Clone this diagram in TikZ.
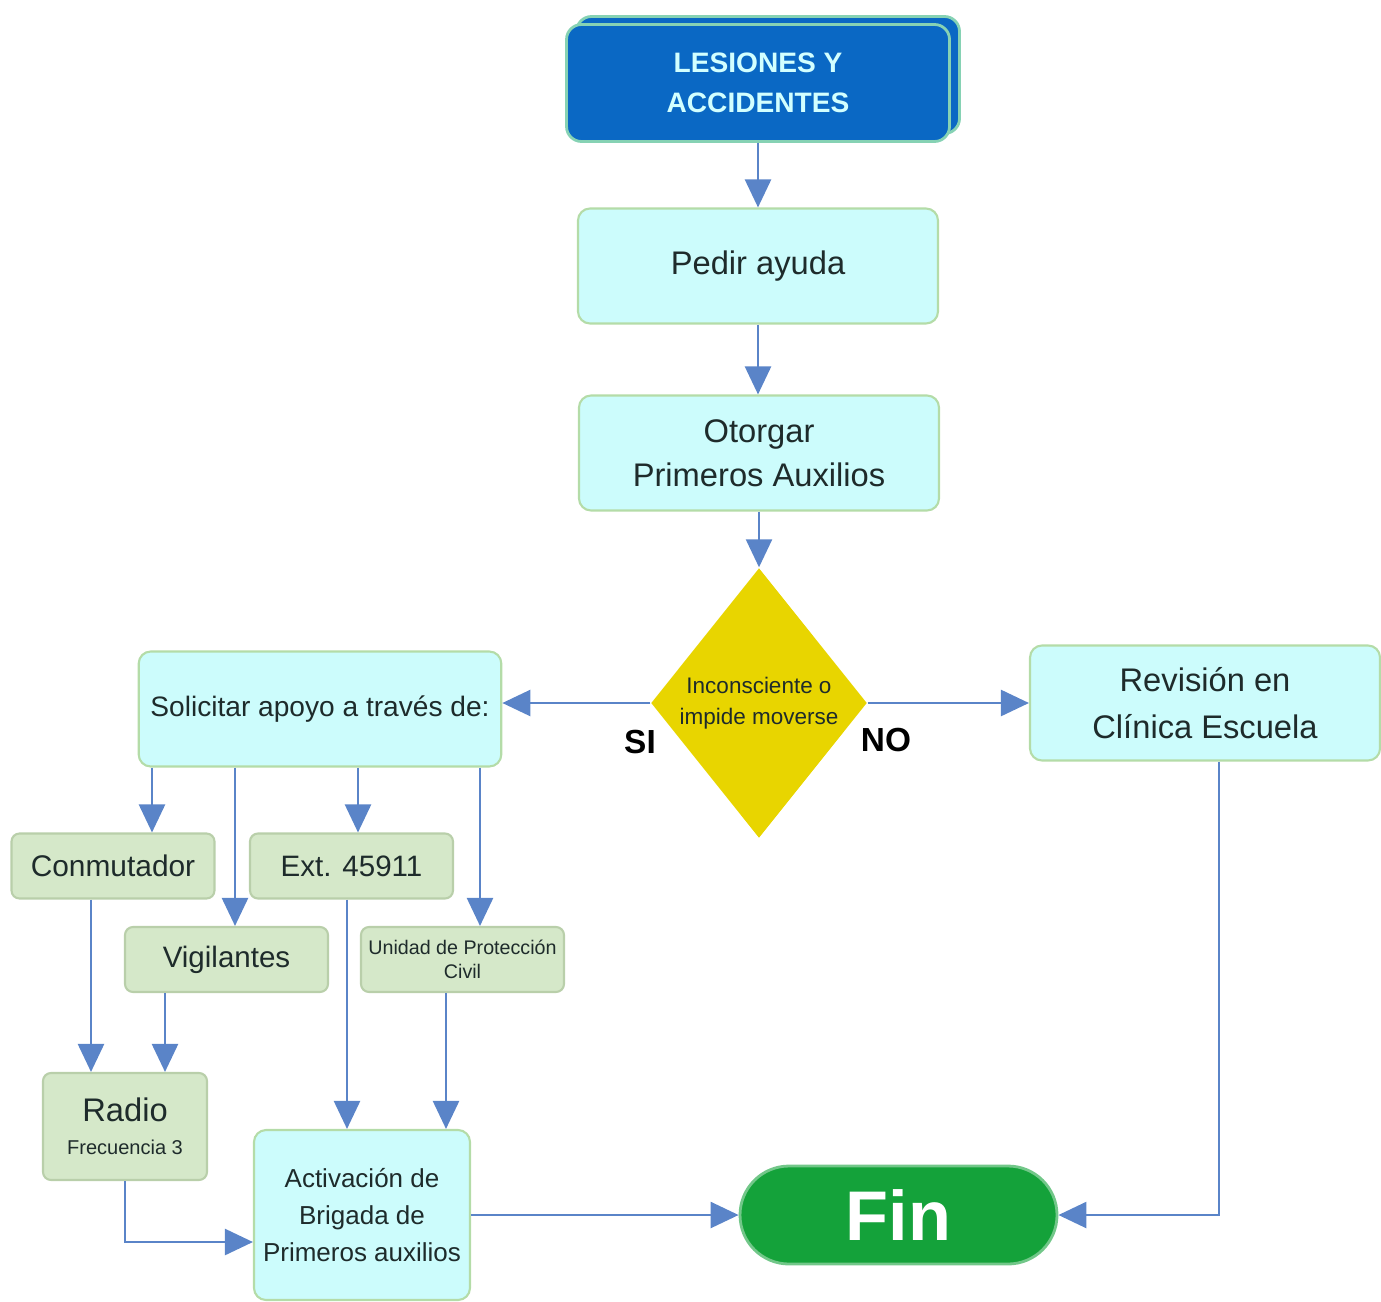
\documentclass[tikz,border=0pt]{standalone}
\usepackage{fontspec}
\setmainfont{Liberation Sans}
\usetikzlibrary{arrows.meta, positioning, shapes.geometric}

\definecolor{headblue}{HTML}{0A68C4}
\definecolor{headedge}{HTML}{86D2B4}
\definecolor{headtext}{HTML}{D2FFFF}
\definecolor{boxcyan}{HTML}{CCFCFC}
\definecolor{cyanedge}{HTML}{B4DCA8}
\definecolor{boxsage}{HTML}{D5E8C9}
\definecolor{sageedge}{HTML}{B9CFAA}
\definecolor{decyellow}{HTML}{E8D500}
\definecolor{fingreen}{HTML}{14A23A}
\definecolor{linkblue}{HTML}{5A84C8}
\definecolor{inktext}{HTML}{1E2B2B}

\begin{document}
\begin{tikzpicture}[
    font=\fontsize{9.3}{12.5}\selectfont,
    text=inktext,
    headbox/.style={rectangle, draw=headedge, line width=0.8pt, fill=headblue, rounded corners=0.15cm, minimum width=3.83cm, minimum height=1.17cm, align=center, text=headtext, font=\bfseries\fontsize{8}{11.4}\selectfont},
    stepbox/.style={rectangle, draw=cyanedge, line width=0.6pt, fill=boxcyan, rounded corners=0.12cm, minimum width=3.6cm, minimum height=1.15cm, align=center},
    optbox/.style={rectangle, draw=sageedge, line width=0.6pt, fill=boxsage, rounded corners=0.08cm, minimum width=2.03cm, minimum height=0.65cm, align=center, inner sep=1pt},
    decision/.style={diamond, fill=decyellow, minimum width=2.16cm, minimum height=2.7cm, inner sep=0pt, align=center, font=\fontsize{6.4}{8.8}\selectfont},
    endbox/.style={rectangle, rounded corners=0.49cm, draw=fingreen!60!white, line width=0.8pt, fill=fingreen, minimum width=3.17cm, minimum height=0.98cm, text=white, font=\bfseries\fontsize{20}{20}\selectfont},
    flow/.style={-{Triangle[length=0.28cm, width=0.26cm]}, draw=linkblue, line width=0.7pt},
    answer/.style={font=\bfseries\fontsize{9.5}{11}\selectfont, text=black}
]

% Canvas
\useasboundingbox (0,0) rectangle (13.81,13.01);

% Main column
\node[headbox] (headback) at (7.68,12.26) {};
\node[headbox] (head) at (7.58,12.18) {LESIONES Y\\ACCIDENTES};
\node[stepbox] (pedir) at (7.58,10.35) {Pedir ayuda};
\node[stepbox] (otorgar) at (7.59,8.48) {Otorgar\\Primeros Auxilios};
\node[decision] (dec) at (7.59,5.98) {Inconsciente o\\impide moverse};

% Branches
\node[stepbox, font=\fontsize{8}{10}\selectfont] (solicitar) at (3.20,5.92) {Solicitar apoyo a través de:};
\node[stepbox, minimum width=3.5cm, font=\fontsize{9.3}{13.4}\selectfont] (revision) at (12.05,5.98) {Revisión en\\Clínica Escuela};
\node[answer] (labelsi) at (6.40,5.59) {SI};
\node[answer] (labelno) at (8.86,5.61) {NO};

% Contact options
\node[optbox, font=\fontsize{8.5}{10}\selectfont] (conm) at (1.13,4.35) {Conmutador};
\node[optbox, font=\fontsize{8.4}{10}\selectfont] (ext) at (3.515,4.35) {Ext. 45911};
\node[optbox, font=\fontsize{8.4}{10}\selectfont] (vig) at (2.265,3.415) {Vigilantes};
\node[optbox, font=\fontsize{5.6}{7}\selectfont] (unidad) at (4.625,3.415) {Unidad de Protección\\Civil};
\node[optbox, minimum width=1.64cm, minimum height=1.07cm] (radio) at (1.25,1.745) {Radio\\[-3pt]{\fontsize{5.7}{7}\selectfont Frecuencia 3}};

% Activation and end
\node[stepbox, inner sep=1pt, minimum width=2.16cm, minimum height=1.7cm, font=\fontsize{7.4}{10.5}\selectfont] (activ) at (3.62,0.86) {Activación de\\Brigada de\\Primeros auxilios};
\node[endbox] (fin) at (8.985,0.86) {Fin};

% Main flow
\draw[flow] (head.south) -- (pedir.north);
\draw[flow] (pedir.south) -- (pedir.south |- otorgar.north);
\draw[flow] (otorgar) -- (dec);
\draw[flow] (dec.west) -- (dec.west -| solicitar.east);
\draw[flow] (dec.east) -- (revision.west);

% Fan out of the request box
\foreach \xx/\target in {1.52/conm, 2.35/vig, 3.58/ext, 4.80/unidad}
    \draw[flow] (\xx,0 |- solicitar.south) -- (\xx,0 |- \target.north);

% Into radio and brigade
\foreach \xx/\source/\target in {0.91/conm/radio, 1.65/vig/radio, 3.47/ext/activ, 4.46/unidad/activ}
    \draw[flow] (\xx,0 |- \source.south) -- (\xx,0 |- \target.north);
\draw[flow] (radio.south) |- ([yshift=-0.27cm]activ.west);

% Towards the end
\draw[flow] (activ.east) -- (fin.west);
\draw[flow] (12.19,0 |- revision.south) |- (fin.east);

\end{tikzpicture}
\end{document}
